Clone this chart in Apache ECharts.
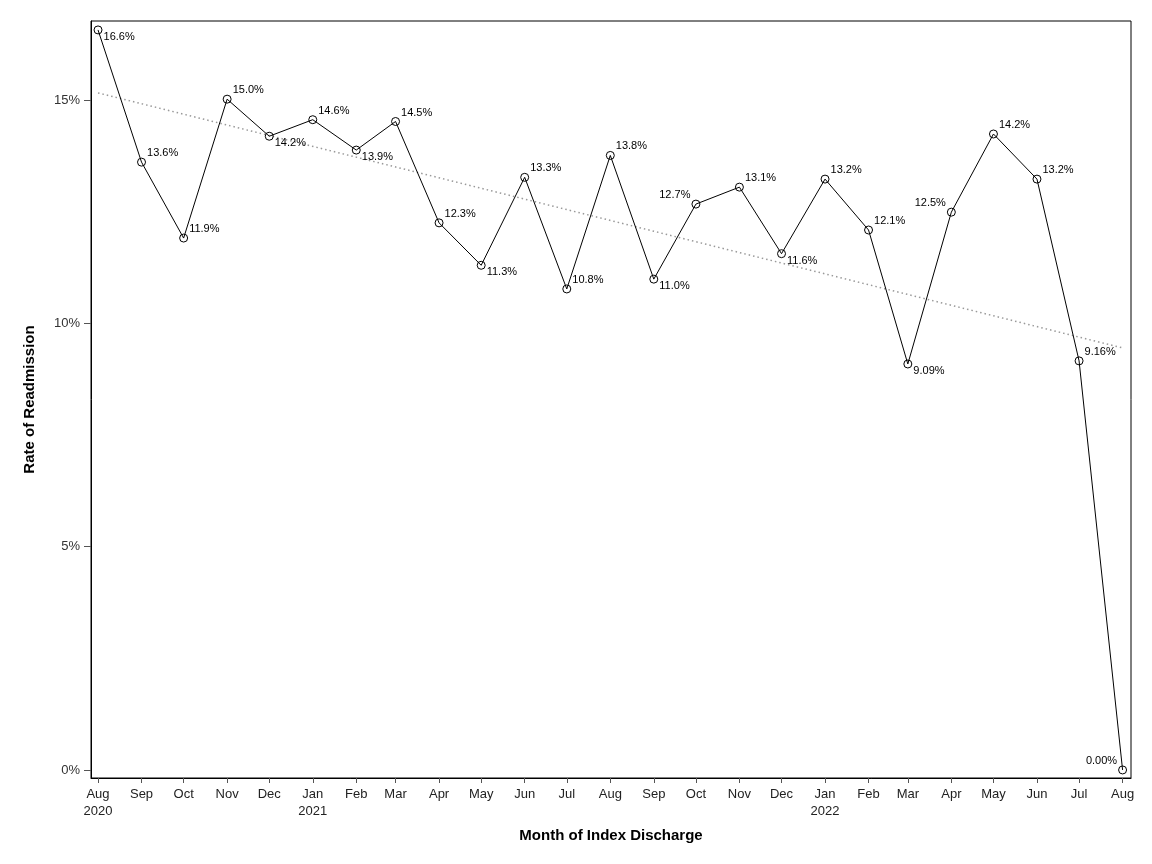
<!DOCTYPE html>
<html>
<head>
<meta charset="utf-8">
<script src="https://cdn.jsdelivr.net/npm/echarts@6/dist/echarts.min.js"></script>
<style>
  html, body { margin: 0; padding: 0; background: #fff; }
  #chart { width: 1152px; height: 864px; }
</style>
</head>
<body>
<div id="chart"></div>
<script>
// month of index discharge (first day of month)
var months = ['2020-08-01','2020-09-01','2020-10-01','2020-11-01','2020-12-01',
              '2021-01-01','2021-02-01','2021-03-01','2021-04-01','2021-05-01',
              '2021-06-01','2021-07-01','2021-08-01','2021-09-01','2021-10-01',
              '2021-11-01','2021-12-01','2022-01-01','2022-02-01','2022-03-01',
              '2022-04-01','2022-05-01','2022-06-01','2022-07-01','2022-08-01'];
// readmission rate, %
var rates = [16.57, 13.61, 11.91, 15.02, 14.19, 14.56, 13.88, 14.52, 12.25, 11.30,
             13.27, 10.77, 13.76, 10.99, 12.67, 13.05, 11.56, 13.23, 12.09, 9.09,
             12.49, 14.24, 13.23, 9.16, 0.00];
// where each point label sits: ur = upper right, lr = lower right, ul = upper left
var labelSide = ['lr','ur','ur','ur','lr','ur','lr','ur','ur','lr',
                 'ur','ur','ur','lr','ul','ur','lr','ur','ur','lr',
                 'ul','ur','ur','ur','ul'];
// linear trend line, value at first and last month
var trendEnds = [15.16, 9.45];
var yTicks = [0, 5, 10, 15];
var monthNames = ['Jan','Feb','Mar','Apr','May','Jun','Jul','Aug','Sep','Oct','Nov','Dec'];

var FONT = 'Liberation Sans, Arial, sans-serif';

function labelFor(side) {
    if (side === 'lr') return { position: 'right', distance: 1, offset: [0, 7] };
    if (side === 'ul') return { position: 'left', distance: 1, offset: [0, -9] };
    return { position: 'right', distance: 1, offset: [0, -9] };
}

var pts = months.map(function (m, i) {
    return { value: [m, rates[i]], label: labelFor(labelSide[i]) };
});

var chart = echarts.init(document.getElementById('chart'), null, { renderer: 'canvas' });
chart.setOption({
    animation: false,
    backgroundColor: '#fff',
    textStyle: { fontFamily: FONT },
    grid: {
        left: 91, right: 21, top: 21, bottom: 86,
        show: true, borderColor: '#000', borderWidth: 1
    },
    xAxis: {
        type: 'time',
        min: '2020-07-27',
        max: '2022-08-07',
        minInterval: 28 * 86400000,
        maxInterval: 31 * 86400000,
        name: 'Month of Index Discharge',
        nameLocation: 'middle',
        nameGap: 50,
        nameTextStyle: { fontFamily: FONT, fontSize: 15, fontWeight: 'bold', color: '#000' },
        axisLine: { onZero: false, lineStyle: { color: '#000', width: 1 } },
        axisTick: { show: true, inside: false, length: 5, lineStyle: { color: '#555' } },
        axisLabel: {
            color: '#222', fontSize: 13, fontFamily: FONT, margin: 8, lineHeight: 17,
            hideOverlap: false,
            formatter: function (val) {
                var d = new Date(val);
                var s = monthNames[d.getMonth()];
                if (d.getMonth() === 0 || val === +new Date(months[0] + 'T00:00:00')) s += '\n' + d.getFullYear();
                return s;
            }
        },
        splitLine: { show: false }
    },
    yAxis: {
        type: 'value',
        min: -0.18,
        max: 16.77,
        name: 'Rate of Readmission',
        nameLocation: 'middle',
        nameGap: 54,
        nameTextStyle: { fontFamily: FONT, fontSize: 15, fontWeight: 'bold', color: '#000' },
        axisLine: { show: true, onZero: false, lineStyle: { color: '#000', width: 1 } },
        axisTick: { show: true, inside: false, length: 7, customValues: yTicks, lineStyle: { color: '#555' } },
        axisLabel: {
            color: '#333', fontSize: 13, fontFamily: FONT, margin: 11,
            customValues: yTicks,
            formatter: function (v) { return v + '%'; }
        },
        splitLine: { show: false }
    },
    series: [
        {
            type: 'line',
            data: [[months[0], trendEnds[0]], [months[months.length - 1], trendEnds[1]]],
            symbol: 'none',
            lineStyle: { color: '#999', width: 1.5, type: [1.5, 3] },
            silent: true,
            z: 1
        },
        {
            type: 'line',
            data: pts,
            symbol: 'circle',
            symbolSize: 8,
            showAllSymbol: true,
            itemStyle: { color: 'transparent', borderColor: '#000', borderWidth: 1 },
            lineStyle: { color: '#000', width: 1 },
            label: {
                show: true,
                fontSize: 11,
                fontFamily: FONT,
                color: '#000',
                formatter: function (p) { return p.value[1].toPrecision(3) + '%'; }
            },
            z: 3
        }
    ]
});
</script>
</body>
</html>
